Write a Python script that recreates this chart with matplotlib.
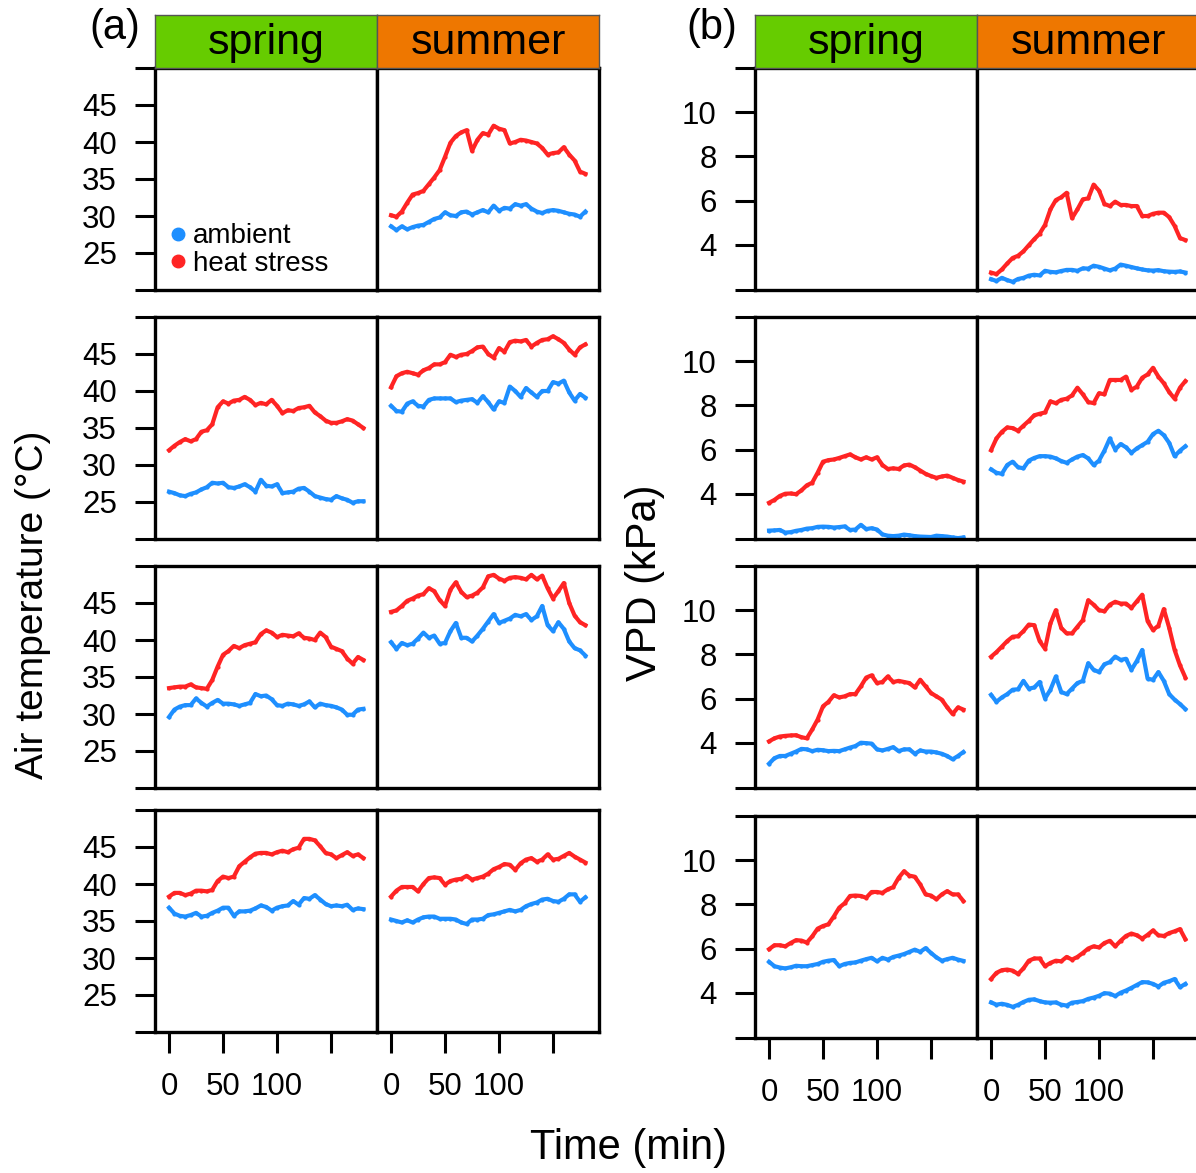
import numpy as np
import matplotlib
matplotlib.use('Agg')
import matplotlib.pyplot as plt
from matplotlib.lines import Line2D

plt.rcParams['font.family'] = ['Liberation Sans', 'DejaVu Sans']

#%% Data (5 min steps, 0..180 min)
time_min = [0, 5, 10, 15, 20, 25, 30, 35, 40, 45, 50, 55, 60, 65, 70, 75, 80, 85, 90,
            95, 100, 105, 110, 115, 120, 125, 130, 135, 140, 145, 150, 155, 160, 165, 170, 175, 180]

seasons = ['spring', 'summer']
season_colors = ['#66CC00', '#EE7700']
treatments = ['ambient', 'heat stress']
treat_colors = ['#1E8FFF', '#FF2424']

# (a) air temperature, degC
ta_summer1_amb = [28.6, 28.1, 28.6, 28.2, 28.5, 28.7, 28.8, 29.2, 29.6, 29.8, 30.5, 30.1, 30.0, 30.5, 30.6, 30.2, 30.5, 30.8, 30.5,
                  31.4, 30.7, 31.1, 31.0, 31.6, 31.4, 31.6, 31.0, 30.6, 30.4, 30.7, 30.8, 30.7, 30.5, 30.3, 30.2, 29.9, 30.6]
ta_summer1_hs = [30.1, 29.9, 30.6, 31.8, 32.9, 33.1, 33.4, 34.3, 35.2, 36.2, 38.0, 39.9, 40.8, 41.3, 41.6, 38.8, 40.3, 41.2, 41.0,
                 42.2, 41.8, 41.6, 39.8, 40.0, 40.3, 40.2, 40.0, 39.8, 39.2, 38.3, 38.5, 38.6, 39.3, 38.3, 37.5, 36.0, 35.7]
ta_spring2_amb = [26.4, 26.2, 25.9, 25.8, 26.1, 26.3, 26.7, 27.0, 27.6, 27.5, 27.6, 27.0, 26.9, 27.1, 27.4, 27.0, 26.4, 28.0, 27.2,
                  27.1, 27.4, 26.2, 26.3, 26.4, 26.8, 26.9, 26.4, 25.8, 25.6, 25.4, 25.3, 25.8, 25.5, 25.3, 24.9, 25.1, 25.1]
ta_spring2_hs = [32.0, 32.6, 33.1, 33.5, 33.2, 33.5, 34.5, 34.7, 35.5, 37.8, 38.6, 38.3, 38.7, 38.8, 39.2, 38.8, 38.1, 38.4, 38.2,
                 38.8, 38.0, 37.0, 37.4, 37.3, 37.7, 37.8, 38.0, 37.1, 36.6, 36.0, 35.7, 35.7, 35.9, 36.2, 36.0, 35.5, 35.0]
ta_summer2_amb = [38.0, 37.3, 37.2, 38.3, 38.6, 38.0, 37.9, 38.8, 39.0, 39.0, 39.0, 39.0, 38.5, 38.7, 38.8, 38.9, 38.4, 39.3, 38.5,
                  37.5, 38.6, 38.4, 40.6, 40.0, 39.2, 40.4, 39.8, 39.2, 40.0, 40.0, 41.2, 41.0, 41.4, 39.8, 38.7, 39.6, 39.1]
ta_summer2_hs = [40.5, 42.0, 42.4, 42.6, 42.4, 42.2, 42.8, 43.1, 43.6, 43.6, 43.9, 44.9, 44.6, 44.9, 45.0, 45.4, 45.9, 46.0, 45.0,
                 44.5, 45.8, 45.3, 46.6, 46.8, 46.7, 46.9, 46.0, 46.5, 46.9, 47.0, 47.4, 47.0, 46.5, 45.6, 44.9, 45.9, 46.3]
ta_spring3_amb = [29.6, 30.6, 31.0, 31.2, 31.2, 32.1, 31.5, 31.0, 31.5, 31.9, 31.4, 31.4, 31.3, 31.1, 31.3, 31.5, 32.7, 32.4, 32.5,
                  32.0, 31.2, 31.1, 31.4, 31.3, 31.1, 31.3, 31.7, 30.9, 31.4, 31.2, 31.1, 30.9, 30.6, 29.9, 29.9, 30.6, 30.7]
ta_spring3_hs = [33.5, 33.6, 33.7, 33.7, 34.0, 33.6, 33.5, 33.4, 34.6, 36.4, 38.0, 38.5, 39.2, 38.9, 39.3, 39.5, 39.7, 40.8, 41.3,
                 41.0, 40.4, 40.7, 40.6, 40.5, 40.9, 40.3, 40.2, 40.0, 41.0, 40.4, 39.1, 38.8, 38.5, 37.5, 36.8, 37.7, 37.3]
ta_summer3_amb = [39.7, 38.8, 39.6, 39.3, 39.5, 40.2, 41.0, 40.3, 40.6, 39.5, 39.6, 41.2, 42.3, 40.3, 40.3, 39.8, 40.6, 41.5, 42.5,
                  43.5, 42.3, 42.6, 42.9, 43.4, 43.2, 43.5, 42.7, 43.2, 44.6, 42.0, 41.2, 42.4, 41.5, 39.8, 38.9, 38.6, 37.9]
ta_summer3_hs = [43.8, 44.0, 44.6, 45.3, 45.6, 46.0, 46.2, 47.0, 46.6, 45.4, 44.6, 46.8, 47.8, 46.5, 45.8, 46.0, 46.4, 47.1, 48.6,
                 48.8, 48.3, 48.0, 48.4, 48.5, 48.4, 48.2, 48.8, 48.2, 48.7, 47.0, 45.6, 46.6, 47.7, 45.0, 43.3, 42.4, 42.0]
ta_spring4_amb = [36.8, 36.0, 35.7, 35.6, 35.8, 36.1, 35.6, 35.7, 36.1, 36.4, 36.8, 36.8, 35.7, 36.3, 36.3, 36.4, 36.7, 37.1, 36.9,
                  36.4, 36.8, 37.0, 37.1, 37.7, 37.2, 38.1, 38.0, 38.5, 37.9, 37.3, 37.0, 37.1, 37.0, 37.2, 36.5, 36.7, 36.6]
ta_spring4_hs = [38.3, 38.8, 38.8, 38.5, 38.7, 39.1, 39.1, 39.0, 39.2, 40.4, 41.0, 40.8, 41.0, 42.4, 43.0, 43.6, 44.1, 44.2, 44.2,
                 44.0, 44.3, 44.5, 44.3, 44.7, 44.9, 46.1, 46.1, 45.9, 45.1, 44.2, 44.0, 43.5, 43.9, 44.3, 43.8, 44.0, 43.5]
ta_summer4_amb = [35.2, 35.0, 34.8, 35.1, 34.8, 35.2, 35.5, 35.6, 35.6, 35.3, 35.3, 35.3, 35.2, 34.8, 34.6, 35.2, 35.2, 35.3, 35.8,
                  35.9, 36.1, 36.3, 36.5, 36.3, 36.5, 37.0, 37.3, 37.5, 37.9, 38.0, 37.7, 37.6, 38.0, 38.6, 38.6, 37.6, 38.2]
ta_summer4_hs = [38.3, 39.1, 39.6, 39.6, 39.6, 39.0, 40.0, 40.8, 40.9, 40.8, 39.9, 40.4, 40.6, 40.7, 41.1, 40.6, 40.8, 41.0, 41.4,
                 42.0, 42.3, 42.7, 42.6, 41.9, 42.8, 43.3, 43.5, 43.0, 43.3, 44.0, 43.3, 43.4, 43.8, 44.2, 43.7, 43.3, 42.9]

# (b) vapour pressure deficit, kPa
vpd_summer1_amb = [2.44, 2.36, 2.50, 2.40, 2.32, 2.45, 2.50, 2.60, 2.64, 2.61, 2.82, 2.77, 2.75, 2.81, 2.86, 2.86, 2.82, 2.93, 2.92,
                   3.05, 3.00, 2.92, 2.84, 2.92, 3.10, 3.05, 2.99, 2.93, 2.88, 2.84, 2.83, 2.85, 2.80, 2.78, 2.77, 2.79, 2.74]
vpd_summer1_hs = [2.74, 2.67, 2.88, 3.15, 3.40, 3.50, 3.70, 3.98, 4.25, 4.50, 4.90, 5.60, 6.02, 6.15, 6.35, 5.20, 5.60, 6.05, 6.10,
                  6.72, 6.45, 5.85, 5.75, 5.95, 5.80, 5.80, 5.75, 5.75, 5.30, 5.30, 5.40, 5.45, 5.45, 5.25, 4.85, 4.30, 4.21]
vpd_spring2_amb = [2.33, 2.34, 2.36, 2.24, 2.26, 2.32, 2.36, 2.42, 2.44, 2.50, 2.51, 2.50, 2.47, 2.49, 2.52, 2.36, 2.38, 2.59, 2.40,
                   2.44, 2.38, 2.16, 2.10, 2.08, 2.10, 2.15, 2.12, 2.08, 2.06, 2.05, 2.04, 2.10, 2.08, 2.06, 2.02, 1.99, 2.02]
vpd_spring2_hs = [3.59, 3.72, 3.90, 4.00, 4.01, 3.98, 4.15, 4.38, 4.50, 4.95, 5.45, 5.52, 5.55, 5.62, 5.70, 5.78, 5.65, 5.55, 5.65,
                  5.55, 5.65, 5.30, 5.12, 5.15, 5.12, 5.28, 5.32, 5.20, 5.05, 4.90, 4.80, 4.72, 4.78, 4.82, 4.72, 4.62, 4.55]
vpd_summer2_amb = [5.10, 4.95, 4.90, 5.30, 5.45, 5.20, 5.15, 5.50, 5.62, 5.70, 5.70, 5.68, 5.60, 5.48, 5.40, 5.55, 5.68, 5.75, 5.60,
                   5.30, 5.50, 5.95, 6.50, 6.00, 6.25, 6.10, 5.85, 6.05, 6.20, 6.35, 6.70, 6.85, 6.65, 6.30, 5.70, 5.95, 6.15]
vpd_summer2_hs = [5.97, 6.50, 6.80, 7.00, 6.97, 6.85, 7.08, 7.30, 7.55, 7.62, 7.68, 8.18, 8.10, 8.25, 8.30, 8.45, 8.80, 8.50, 8.15,
                  8.10, 8.55, 8.50, 9.15, 9.15, 9.15, 9.30, 8.70, 8.85, 9.25, 9.40, 9.70, 9.30, 9.00, 8.60, 8.30, 8.80, 9.10]
vpd_spring3_amb = [3.05, 3.30, 3.40, 3.40, 3.50, 3.60, 3.72, 3.70, 3.62, 3.68, 3.66, 3.62, 3.63, 3.62, 3.70, 3.78, 3.85, 4.00, 3.98,
                   3.96, 3.70, 3.65, 3.72, 3.80, 3.62, 3.70, 3.70, 3.50, 3.65, 3.60, 3.60, 3.56, 3.50, 3.40, 3.25, 3.40, 3.58]
vpd_spring3_hs = [4.06, 4.20, 4.28, 4.31, 4.33, 4.34, 4.25, 4.20, 4.60, 5.05, 5.65, 5.85, 6.15, 6.05, 6.10, 6.20, 6.20, 6.55, 6.95,
                  7.05, 6.70, 6.75, 7.00, 6.75, 6.80, 6.75, 6.70, 6.50, 6.85, 6.55, 6.25, 6.10, 5.95, 5.60, 5.30, 5.60, 5.50]
vpd_summer3_amb = [6.17, 5.85, 6.05, 6.20, 6.40, 6.42, 6.80, 6.45, 6.50, 6.75, 6.00, 6.40, 7.00, 6.30, 6.20, 6.45, 6.70, 6.80, 7.60,
                   7.30, 7.20, 7.55, 7.65, 7.90, 7.75, 7.80, 7.30, 7.70, 8.20, 6.90, 6.85, 7.20, 6.80, 6.20, 5.95, 5.75, 5.52]
vpd_summer3_hs = [7.89, 8.10, 8.35, 8.60, 8.80, 8.82, 9.05, 9.35, 9.32, 8.60, 8.25, 9.40, 10.00, 9.20, 8.95, 8.95, 9.25, 9.55, 10.45,
                  10.25, 10.00, 9.95, 10.25, 10.38, 10.30, 10.30, 10.10, 10.40, 10.70, 9.50, 9.10, 9.30, 10.05, 9.20, 8.20, 7.50, 6.95]
vpd_spring4_amb = [5.40, 5.20, 5.14, 5.10, 5.15, 5.22, 5.20, 5.20, 5.25, 5.30, 5.40, 5.45, 5.48, 5.20, 5.30, 5.35, 5.37, 5.45, 5.52,
                   5.58, 5.42, 5.58, 5.50, 5.62, 5.68, 5.75, 5.85, 5.95, 5.85, 6.02, 5.80, 5.60, 5.45, 5.52, 5.58, 5.50, 5.44]
vpd_spring4_hs = [5.97, 6.15, 6.15, 6.10, 6.25, 6.38, 6.36, 6.27, 6.55, 6.90, 7.02, 7.10, 7.45, 7.85, 8.05, 8.38, 8.40, 8.38, 8.30,
                  8.56, 8.56, 8.52, 8.68, 8.78, 9.20, 9.50, 9.30, 9.25, 8.90, 8.45, 8.40, 8.23, 8.45, 8.60, 8.45, 8.45, 8.15]
vpd_summer4_amb = [3.56, 3.46, 3.50, 3.45, 3.36, 3.45, 3.58, 3.68, 3.70, 3.62, 3.56, 3.55, 3.56, 3.46, 3.42, 3.55, 3.58, 3.62, 3.72,
                   3.78, 3.86, 3.98, 3.96, 3.85, 4.00, 4.10, 4.22, 4.35, 4.48, 4.47, 4.40, 4.28, 4.45, 4.52, 4.62, 4.25, 4.40]
vpd_summer4_hs = [4.62, 4.90, 5.02, 5.05, 5.00, 4.85, 5.10, 5.45, 5.55, 5.55, 5.20, 5.35, 5.45, 5.42, 5.62, 5.50, 5.62, 5.80, 6.00,
                  6.10, 6.05, 6.25, 6.35, 6.10, 6.35, 6.57, 6.68, 6.60, 6.45, 6.62, 6.82, 6.60, 6.57, 6.70, 6.78, 6.88, 6.42]

# panels: (row, column) -> (ambient, heat stress); row 0 spring is empty
data_a = {(0, 1): (ta_summer1_amb, ta_summer1_hs),
          (1, 0): (ta_spring2_amb, ta_spring2_hs), (1, 1): (ta_summer2_amb, ta_summer2_hs),
          (2, 0): (ta_spring3_amb, ta_spring3_hs), (2, 1): (ta_summer3_amb, ta_summer3_hs),
          (3, 0): (ta_spring4_amb, ta_spring4_hs), (3, 1): (ta_summer4_amb, ta_summer4_hs)}
data_b = {(0, 1): (vpd_summer1_amb, vpd_summer1_hs),
          (1, 0): (vpd_spring2_amb, vpd_spring2_hs), (1, 1): (vpd_summer2_amb, vpd_summer2_hs),
          (2, 0): (vpd_spring3_amb, vpd_spring3_hs), (2, 1): (vpd_summer3_amb, vpd_summer3_hs),
          (3, 0): (vpd_spring4_amb, vpd_spring4_hs), (3, 1): (vpd_summer4_amb, vpd_summer4_hs)}

#%% Figure layout (pixel boxes)
W, H = 1196, 1173
fig = plt.figure(figsize=(W / 100., H / 100.), dpi=100)

def add_box(x0, x1, y0, y1):
    return fig.add_axes([x0 / W, 1 - y1 / H, (x1 - x0) / W, (y1 - y0) / H])

def draw_block(cols, rows, data, ylim, yticks, yticklabels, legend=False):
    for r, (y0, y1) in enumerate(rows):
        for c, (x0, x1) in enumerate(cols):
            ax = add_box(x0, x1, y0, y1)
            if (r, c) in data:
                for vals, col in zip(data[(r, c)], treat_colors):
                    ax.plot(time_min, vals, '-', color=col, lw=3.0, marker='.', ms=4,
                            solid_joinstyle='round')
            ax.set_xlim(-13, 192.6)
            ax.set_ylim(ylim)
            for sp in ax.spines.values():
                sp.set_linewidth(2.4)
            if c == 0:
                ax.set_yticks(yticks)
                ax.set_yticklabels(yticklabels)
            else:
                ax.set_yticks([])
            if r == len(rows) - 1:
                ax.set_xticks([0, 50, 100, 150])
                ax.set_xticklabels(['0', '50', '100', ''])
            else:
                ax.set_xticks([])
            ax.tick_params(axis='y', direction='out', length=14.5, width=2.2, labelsize=22.5, pad=13)
            ax.tick_params(axis='x', direction='out', length=15, width=2.2, labelsize=22.5, pad=14)
            if legend and r == 0 and c == 0:
                handles = [Line2D([], [], ls='none', marker='o', ms=9, color=tc) for tc in treat_colors]
                ax.legend(handles, treatments, loc='lower left', bbox_to_anchor=(0.065, 0.06),
                          frameon=False, fontsize=20, handlelength=0.6, handletextpad=0.25,
                          labelspacing=0.05, borderpad=0, borderaxespad=0)
    # season strips
    for c, (x0, x1) in enumerate(cols):
        sx = add_box(x0, x1, 15, rows[0][0])
        sx.set_facecolor(season_colors[c])
        sx.set_xticks([])
        sx.set_yticks([])
        for sp in sx.spines.values():
            sp.set_linewidth(1.0)
            sp.set_color('#555555')
        sx.text(0.5, 0.47, seasons[c], ha='center', va='center', fontsize=31,
                transform=sx.transAxes)

cols_a = [(155, 377), (377, 599)]
rows_a = [(68, 290), (317, 539), (566, 788), (810, 1032)]
cols_b = [(755, 977), (977, 1199)]
rows_b = [(68, 290), (317, 539), (566, 788), (816, 1038)]

draw_block(cols_a, rows_a, data_a, (20, 50), [20, 25, 30, 35, 40, 45, 50],
           ['', '25', '30', '35', '40', '45', ''], legend=True)
draw_block(cols_b, rows_b, data_b, (1.95, 12), [1.95, 4, 6, 8, 10, 12],
           ['', '4', '6', '8', '10', ''])

fig.text(115 / W, 1 - 28 / H, '(a)', ha='center', va='center', fontsize=30)
fig.text(712 / W, 1 - 28 / H, '(b)', ha='center', va='center', fontsize=30)
fig.text(33 / W, 1 - 605 / H, 'Air temperature (\u00b0C)', rotation=90, ha='center', va='center', fontsize=28)
fig.text(645 / W, 1 - 583 / H, 'VPD (kPa)', rotation=90, ha='center', va='center', fontsize=30)
fig.text(628 / W, 1 - 1148 / H, 'Time (min)', ha='center', va='center', fontsize=30)

fig.savefig('out.png', dpi=100)
plt.close(fig)
